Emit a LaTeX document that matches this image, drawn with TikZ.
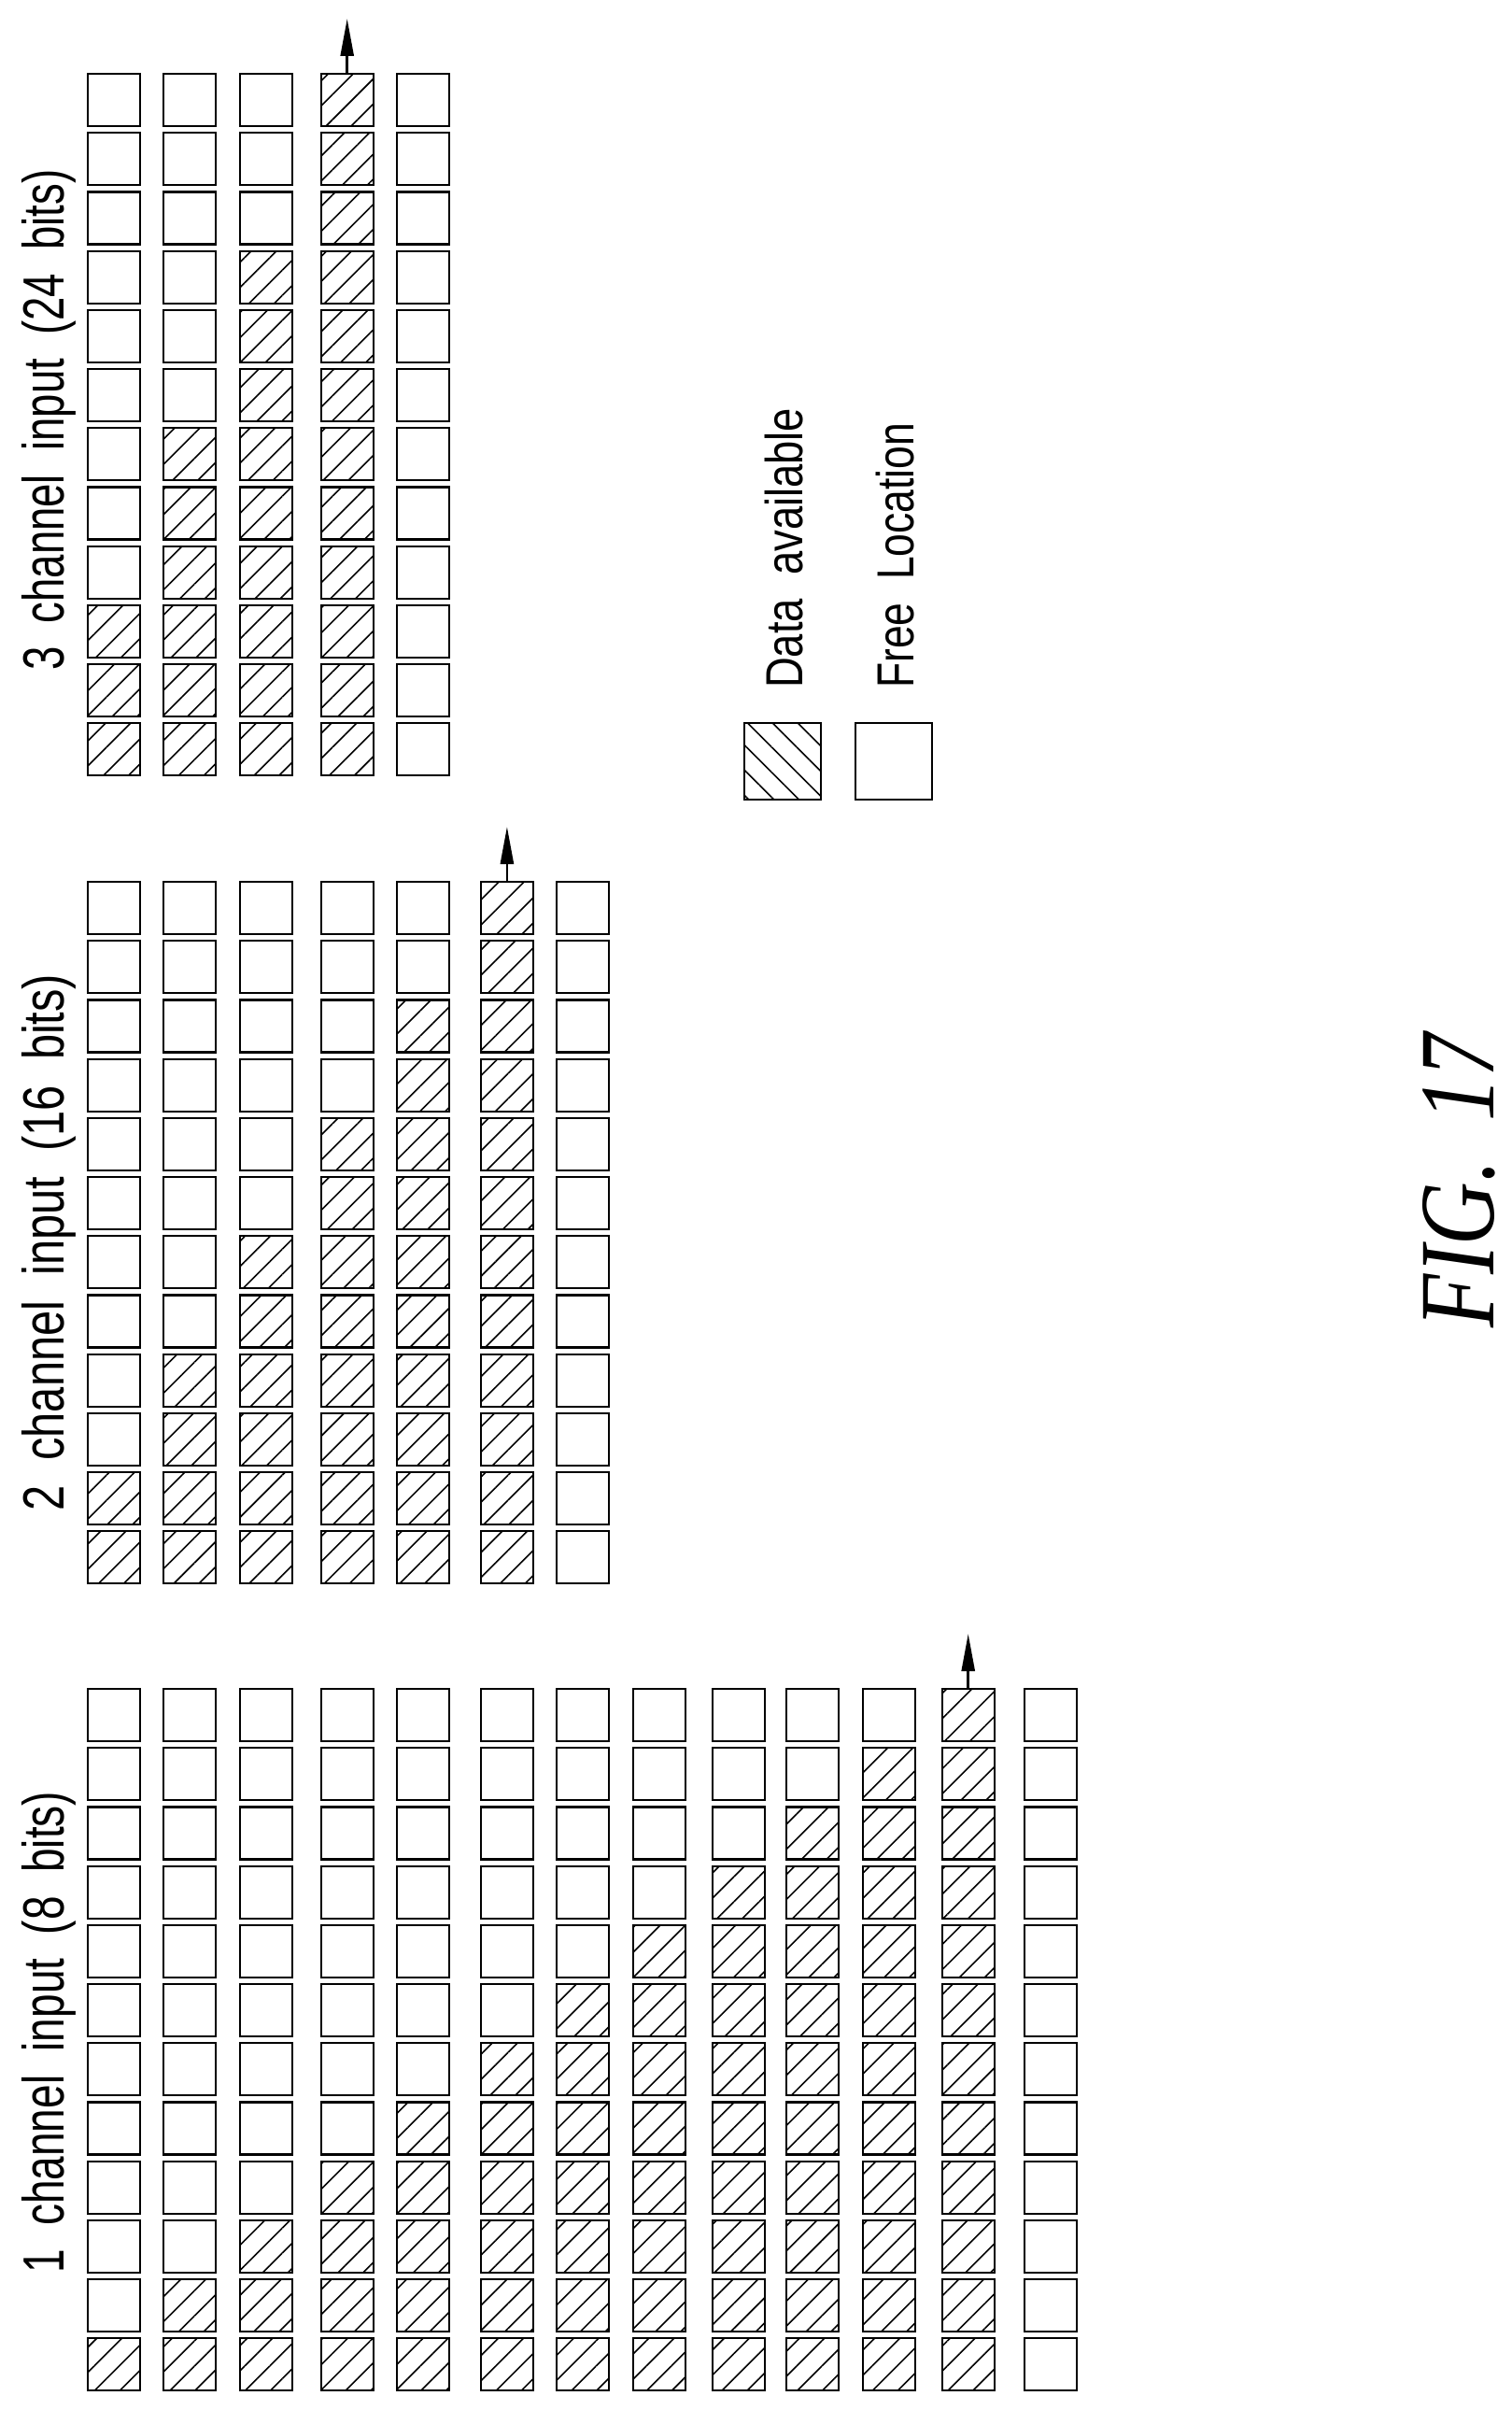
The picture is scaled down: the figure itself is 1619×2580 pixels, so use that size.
\documentclass[tikz,border=0pt]{standalone}
\usepackage{fontspec}
\usepackage{graphicx}
\setmainfont{Liberation Serif}
\setsansfont{Liberation Sans}
\usetikzlibrary{patterns.meta,arrows.meta}
\tikzset{
  cell/.style={draw,line width=2.2pt,minimum size=56pt,inner sep=0pt,outer sep=0pt},
  full/.style={cell,pattern={Lines[angle=45,distance=19pt,line width=1.6pt]}},
  legfull/.style={cell,minimum size=82pt,line width=2.6pt,pattern={Lines[angle=-45,distance=19pt,line width=1.6pt]}},
  legfree/.style={cell,minimum size=82pt,line width=2.6pt},
  lab/.style={rotate=90,anchor=base west,inner sep=0pt,font=\sffamily},
  outarrow/.style={line width=2.6pt,-{Triangle[length=40pt,width=14pt]}}
}
\def\colx{{122.3,203.3,284.7,371.7,452.7,542.9,624,705.7,790.7,869.7,951.7,1036.7,1124.7}}
\begin{document}
\begin{tikzpicture}[x=1pt,y=-1pt]
\useasboundingbox (0,0) rectangle (1619,2580);
% group 1: 13 columns, 12 rows, column i has i filled cells from bottom (i<=12)
\foreach \c in {1,...,13}{
  \foreach \r in {1,...,12}{
    \pgfmathsetmacro{\xx}{\colx[\c-1]}
    \pgfmathtruncatemacro{\fill}{(\c<13)&&(\r>12-\c)?1:0}
    \ifnum\fill=1
      \node[full] (a\c-\r) at (\xx,{1836+63.2*(\r-1)}) {};
    \else
      \node[cell] (a\c-\r) at (\xx,{1836+63.2*(\r-1)}) {};
    \fi
  }
}
% group 2: 7 columns, column i has 2i filled
\foreach \c in {1,...,7}{
  \foreach \r in {1,...,12}{
    \pgfmathsetmacro{\xx}{\colx[\c-1]}
    \pgfmathtruncatemacro{\fill}{(\c<7)&&(\r>12-2*\c)?1:0}
    \ifnum\fill=1
      \node[full] (b\c-\r) at (\xx,{972+63.2*(\r-1)}) {};
    \else
      \node[cell] (b\c-\r) at (\xx,{972+63.2*(\r-1)}) {};
    \fi
  }
}
% group 3: 5 columns, column i has 3i filled
\foreach \c in {1,...,5}{
  \foreach \r in {1,...,12}{
    \pgfmathsetmacro{\xx}{\colx[\c-1]}
    \pgfmathtruncatemacro{\fill}{(\c<5)&&(\r>12-3*\c)?1:0}
    \ifnum\fill=1
      \node[full] (c\c-\r) at (\xx,{107+63.2*(\r-1)}) {};
    \else
      \node[cell] (c\c-\r) at (\xx,{107+63.2*(\r-1)}) {};
    \fi
  }
}
% arrows
\coordinate (ea) at (1036.7,1749);
\coordinate (eb) at (542.9,885);
\coordinate (ec) at (371.7,20);
\draw[outarrow] (a12-1.north) -- (ea);
\draw[outarrow] (b6-1.north) -- (eb);
\draw[outarrow] (c4-1.north) -- (ec);
% labels
\node[lab] (la) at (68,2434) {\resizebox*{516pt}{58pt}{1\ \ channel\ \ input\ \ (8\ \ bits)}};
\node[lab] (lb) at (68,1618) {\resizebox*{575pt}{58pt}{2\ \ channel\ \ input\ \ (16\ \ bits)}};
\node[lab] (lc) at (68,718) {\resizebox*{536pt}{58pt}{3\ \ channel\ \ input\ \ (24\ \ bits)}};
% legend
\node[legfull] (k1) at (838,815) {};
\node[legfree] (k2) at (957,815) {};
\node[lab] (t1) at (859,737) {\resizebox*{300pt}{41pt}{Data\ \ available}};
\node[lab] (t2) at (978,737) {\resizebox*{284pt}{41pt}{Free\ \ Location}};
% figure caption
\node[rotate=90,anchor=base west,inner sep=0pt] (fig) at (1599,1422) {\resizebox{315pt}{76pt}{\itshape FIG.\hspace{0.45em}17}};
\end{tikzpicture}
\end{document}
